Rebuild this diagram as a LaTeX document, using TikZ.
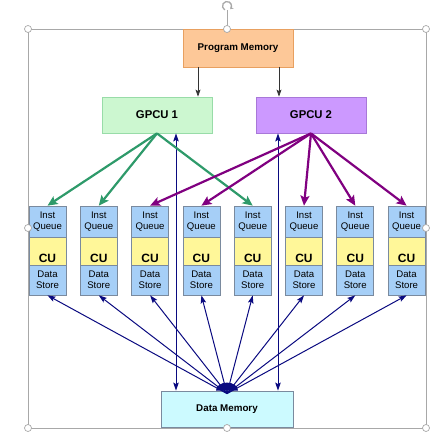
\documentclass[tikz,border=0pt]{standalone}
\usepackage{fontspec}
\setmainfont{Liberation Sans}
\usetikzlibrary{arrows.meta,calc}
\definecolor{pmfill}{HTML}{FDC898}
\definecolor{pmdraw}{HTML}{E8A060}
\definecolor{gafill}{HTML}{CCF7D0}
\definecolor{gadraw}{HTML}{98DCA8}
\definecolor{gbfill}{HTML}{CC99FF}
\definecolor{gbdraw}{HTML}{A878D8}
\definecolor{bluebox}{HTML}{A6CFF7}
\definecolor{yelbox}{HTML}{FFF799}
\definecolor{boxdraw}{HTML}{7A8A9E}
\definecolor{dmfill}{HTML}{CCFAFF}
\definecolor{greenarr}{HTML}{2E9A6A}
\definecolor{purparr}{HTML}{800080}
\definecolor{navyarr}{HTML}{0A0A80}
\definecolor{framecol}{HTML}{A8A8A8}
\tikzset{
  bigbox/.style={draw, line width=0.8pt, rectangle, inner sep=0pt, font=\bfseries},
  peq/.style={draw=boxdraw, line width=0.7pt, fill=bluebox, rectangle, minimum width=37pt, inner sep=0pt, align=center, font=\fontsize{9.6}{11}\selectfont},
  pecu/.style={draw=boxdraw, line width=0.7pt, fill=yelbox, rectangle, minimum width=37pt, minimum height=28pt, inner sep=0pt, text height=22pt, text depth=0pt, font=\fontsize{12}{13}\selectfont\bfseries},
  garrow/.style={draw=greenarr, line width=2.2pt, -{Stealth[length=10pt,width=9pt,inset=2pt]}},
  parrow/.style={draw=purparr, line width=2.2pt, -{Stealth[length=10pt,width=9pt,inset=2pt]}},
  barrow/.style={draw=navyarr, line width=1pt, -{Stealth[length=8pt,width=5.5pt,inset=1.5pt]}},
  bbarrow/.style={draw=navyarr, line width=1pt, {Stealth[length=8pt,width=5.5pt,inset=1.5pt]}-{Stealth[length=8pt,width=5.5pt,inset=1.5pt]}},
  karrow/.style={draw=black!80, line width=0.7pt, -{Stealth[length=7pt,width=5pt,inset=1.5pt]}},
  handle/.style={draw=framecol, fill=white, line width=0.7pt, circle, minimum size=7pt, inner sep=0pt}
}
\begin{document}
\begin{tikzpicture}[x=1pt,y=-1pt]
\useasboundingbox (0,0) rectangle (445,441);
% selection frame
\draw[framecol, line width=0.8pt] (28,29) rectangle (426,428);
\draw[framecol, line width=0.8pt] (227,29) -- (227,10.5);
\draw[framecol, line width=1.3pt, -{Stealth[length=3pt,width=4pt]}] (224.75,9.9) arc[start angle=120, end angle=405, radius=4.5];

% main boxes
\node[bigbox, draw=pmdraw, fill=pmfill, minimum width=110pt, minimum height=38pt, font=\fontsize{9.8}{11}\selectfont\bfseries] (pm) at (238,48) {Program Memory};
\node[bigbox, draw=gadraw, fill=gafill, minimum width=110pt, minimum height=36pt, font=\fontsize{11.3}{12}\selectfont\bfseries] (g1) at (157,115) {GPCU 1};
\node[bigbox, draw=gbdraw, fill=gbfill, minimum width=110pt, minimum height=36pt, font=\fontsize{11.3}{12}\selectfont\bfseries] (g2) at (311,115) {GPCU 2};
\node[bigbox, draw=boxdraw, fill=dmfill, minimum width=132pt, minimum height=36pt, font=\fontsize{9.8}{11}\selectfont\bfseries] (dm) at (227,409) {Data Memory};

% PE columns
\foreach \i in {1,...,8} {
  \pgfmathsetmacro{\cx}{47.5+51.3*(\i-1)}
  \node[peq, minimum height=31pt] (iq\i) at (\cx,221.5) {Inst\\Queue};
  \node[pecu] (cu\i) at (\cx,251) {CU};
  \node[peq, minimum height=30pt] (ds\i) at (\cx,280) {Data\\Store};
}

% program memory arrows
\draw[karrow] ([xshift=-40pt]pm.south) -- ([xshift=-40pt]pm.south |- g1.north);
\draw[karrow] ([xshift=41pt]pm.south) -- ([xshift=41pt]pm.south |- g2.north);

% blue fan from data memory
\foreach \i in {1,...,8} {
  \draw[barrow] ([yshift=-3pt]dm.north) -- (ds\i.south);
}
\fill[navyarr] ([xshift=-11pt]dm.north) arc[start angle=180, end angle=0, x radius=11pt, y radius=8pt] -- cycle;

% vertical double arrows
\draw[bbarrow] ([xshift=19pt]g1.south) -- ([xshift=19pt]g1.south |- dm.north);
\draw[bbarrow] ([xshift=-33pt]g2.south) -- ([xshift=-33pt]g2.south |- dm.north);

% green arrows
\foreach \i in {1,2,5} {
  \draw[garrow] (g1.south) -- (iq\i.north);
}
% purple arrows
\foreach \i in {3,4,6,7,8} {
  \draw[parrow] (g2.south) -- (iq\i.north);
}

% selection handles
\node[handle] (h1) at (28,29) {};
\node[handle] (h2) at (227,29) {};
\node[handle] (h3) at (426,29) {};
\node[handle] (h4) at (28,228) {};
\node[handle] (h5) at (426,228) {};
\node[handle] (h6) at (28,428) {};
\node[handle] (h7) at (227,428) {};
\node[handle] (h8) at (426,428) {};
\end{tikzpicture}
\end{document}
